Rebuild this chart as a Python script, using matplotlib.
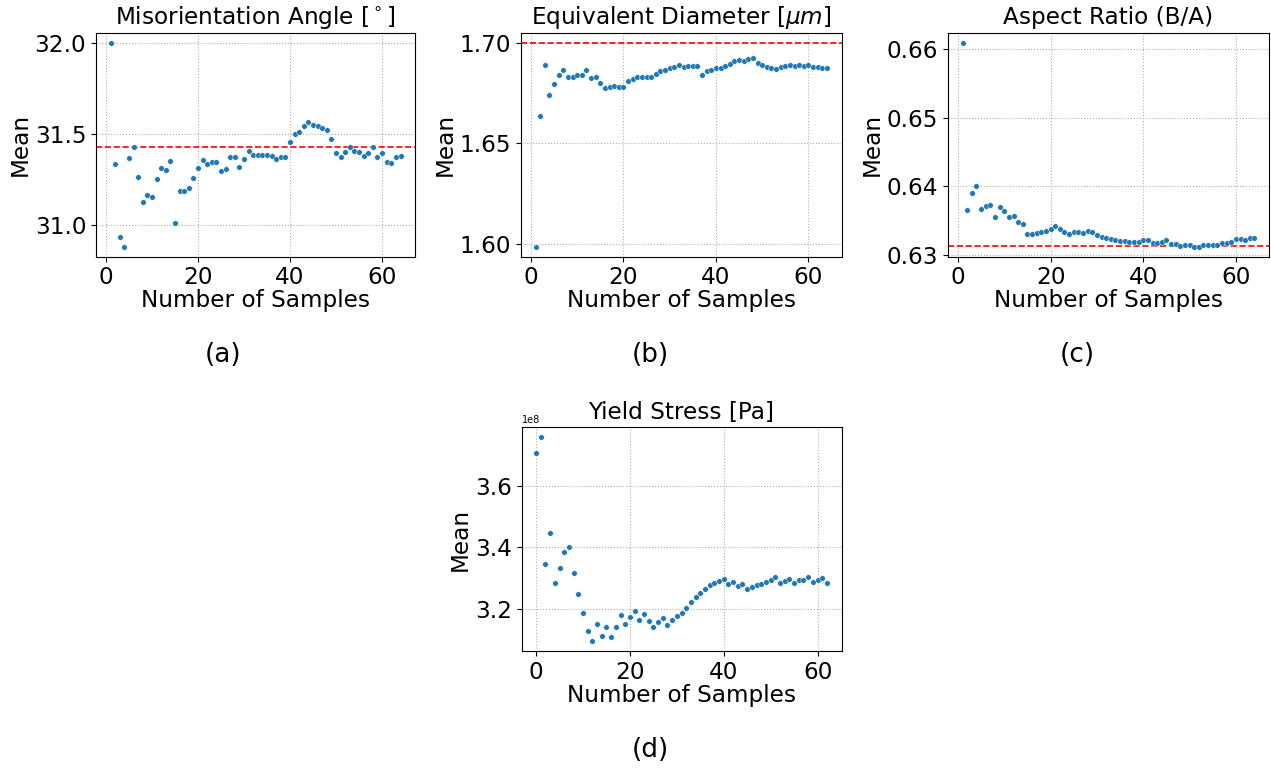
import matplotlib
matplotlib.use("Agg")
import matplotlib.pyplot as plt
import numpy as np

# ---- data ----
mis_angle = [32.000, 31.335, 30.934, 30.881, 31.366, 31.425, 31.261, 31.127, 31.166, 31.151,
             31.250, 31.314, 31.302, 31.349, 31.011, 31.188, 31.188, 31.204, 31.256, 31.313,
             31.357, 31.333, 31.346, 31.344, 31.296, 31.309, 31.370, 31.372, 31.316, 31.361,
             31.403, 31.386, 31.386, 31.386, 31.386, 31.379, 31.364, 31.370, 31.370, 31.454,
             31.500, 31.509, 31.541, 31.564, 31.550, 31.541, 31.531, 31.522, 31.473, 31.397,
             31.375, 31.399, 31.428, 31.403, 31.401, 31.377, 31.392, 31.425, 31.373, 31.392,
             31.346, 31.338, 31.372, 31.379]
mis_ref = 31.425
mis_yticks = [31.0, 31.5, 32.0]

eq_diam = [1.5988, 1.6637, 1.6887, 1.6741, 1.6793, 1.6841, 1.6862, 1.6828, 1.6828, 1.6839,
           1.6839, 1.6864, 1.6823, 1.6828, 1.6799, 1.6773, 1.6778, 1.6786, 1.6779, 1.6778,
           1.6809, 1.6821, 1.6829, 1.6829, 1.6828, 1.6829, 1.6846, 1.6861, 1.6866, 1.6873,
           1.6879, 1.6889, 1.6877, 1.6884, 1.6884, 1.6884, 1.6842, 1.6859, 1.6862, 1.6874,
           1.6876, 1.6884, 1.6892, 1.6909, 1.6915, 1.6909, 1.6917, 1.6922, 1.6900, 1.6889,
           1.6879, 1.6872, 1.6867, 1.6877, 1.6886, 1.6891, 1.6882, 1.6887, 1.6882, 1.6887,
           1.6877, 1.6877, 1.6874, 1.6874]
eq_ref = 1.70
eq_yticks = [1.60, 1.65, 1.70]

aspect = [0.66087, 0.63655, 0.63908, 0.64000, 0.63670, 0.63718, 0.63733, 0.63558, 0.63694, 0.63636,
          0.63553, 0.63573, 0.63485, 0.63451, 0.63311, 0.63301, 0.63325, 0.63335, 0.63350, 0.63374,
          0.63427, 0.63374, 0.63335, 0.63311, 0.63340, 0.63340, 0.63316, 0.63350, 0.63330, 0.63291,
          0.63270, 0.63248, 0.63233, 0.63218, 0.63209, 0.63209, 0.63194, 0.63194, 0.63194, 0.63218,
          0.63218, 0.63184, 0.63175, 0.63194, 0.63218, 0.63160, 0.63160, 0.63136, 0.63155, 0.63146,
          0.63126, 0.63126, 0.63150, 0.63155, 0.63155, 0.63155, 0.63180, 0.63175, 0.63189, 0.63228,
          0.63228, 0.63223, 0.63243, 0.63248]
aspect_ref = 0.63136
aspect_yticks = [0.63, 0.64, 0.65, 0.66]

yield_stress = [3.7073, 3.7572, 3.3453, 3.4472, 3.2824, 3.3322, 3.3854, 3.4016, 3.3171, 3.2477,
                3.1859, 3.1263, 3.0949, 3.1501, 3.1111, 3.1415, 3.1079, 3.1404, 3.1805, 3.1501,
                3.1718, 3.1935, 3.1642, 3.1816, 3.1610, 3.1415, 3.1577, 3.1707, 3.1458, 3.1642,
                3.1751, 3.1870, 3.2011, 3.2228, 3.2379, 3.2520, 3.2650, 3.2759, 3.2846, 3.2900,
                3.2965, 3.2802, 3.2878, 3.2726, 3.2802, 3.2640, 3.2694, 3.2759, 3.2813, 3.2867,
                3.2943, 3.3041, 3.2846, 3.2911, 3.2965, 3.2846, 3.2922, 3.2943, 3.3019, 3.2878,
                3.2922, 3.2997, 3.2824]
yield_scale = 1e8
yield_yticks = [3.2e8, 3.4e8, 3.6e8]

xticks = [0, 20, 40, 60]
titles = ["Misorientation Angle [$^\\circ$]", "Equivalent Diameter [$\\mu m$]",
          "Aspect Ratio (B/A)", "Yield Stress [Pa]"]
captions = ["(a)", "(b)", "(c)", "(d)"]
xlabel = "Number of Samples"
ylabel = "Mean"

# ---- figure ----
W, H = 1271, 768
fig = plt.figure(figsize=(W / 100, H / 100), dpi=100)

def box(l, r, t, b):
    return [l / W, 1 - b / H, (r - l) / W, (b - t) / H]

positions = [box(96, 415, 32.5, 256.7), box(521, 841.5, 32.5, 256.7),
             box(948, 1269, 32.5, 256.7), box(521.5, 841.5, 427.3, 651)]

series = [
    (np.arange(1, len(mis_angle) + 1), np.array(mis_angle), mis_ref, mis_yticks),
    (np.arange(1, len(eq_diam) + 1), np.array(eq_diam), eq_ref, eq_yticks),
    (np.arange(1, len(aspect) + 1), np.array(aspect), aspect_ref, aspect_yticks),
    (np.arange(0, len(yield_stress)), np.array(yield_stress) * yield_scale, None, yield_yticks),
]

FS = 16.7
for pos, (x, y, ref, yt), title in zip(positions, series, titles):
    ax = fig.add_axes(pos)
    ax.scatter(x, y, s=16, color="#1f77b4", edgecolors="white", linewidths=0.3, zorder=3)
    if ref is not None:
        ax.axhline(ref, color="red", linestyle="--", linewidth=1.2, zorder=2)
    ax.grid(True, linestyle=":", color="#b0b0b0", linewidth=0.8)
    ax.set_axisbelow(True)
    ax.set_title(title, fontsize=FS)
    ax.set_xlabel(xlabel, fontsize=FS, labelpad=0)
    ax.set_ylabel(ylabel, fontsize=FS, labelpad=2)
    ax.tick_params(labelsize=FS)
    ax.set_xticks(xticks)
    ax.set_yticks(yt)
    ax.yaxis.get_offset_text().set_fontsize(7)

fig.text(223 / W, 1 - 355 / H, captions[0], fontsize=19, ha="center", va="center")
fig.text(650 / W, 1 - 355 / H, captions[1], fontsize=19, ha="center", va="center")
fig.text(1077 / W, 1 - 355 / H, captions[2], fontsize=19, ha="center", va="center")
fig.text(650 / W, 1 - 750 / H, captions[3], fontsize=19, ha="center", va="center")

fig.savefig("out.png", dpi=100)
